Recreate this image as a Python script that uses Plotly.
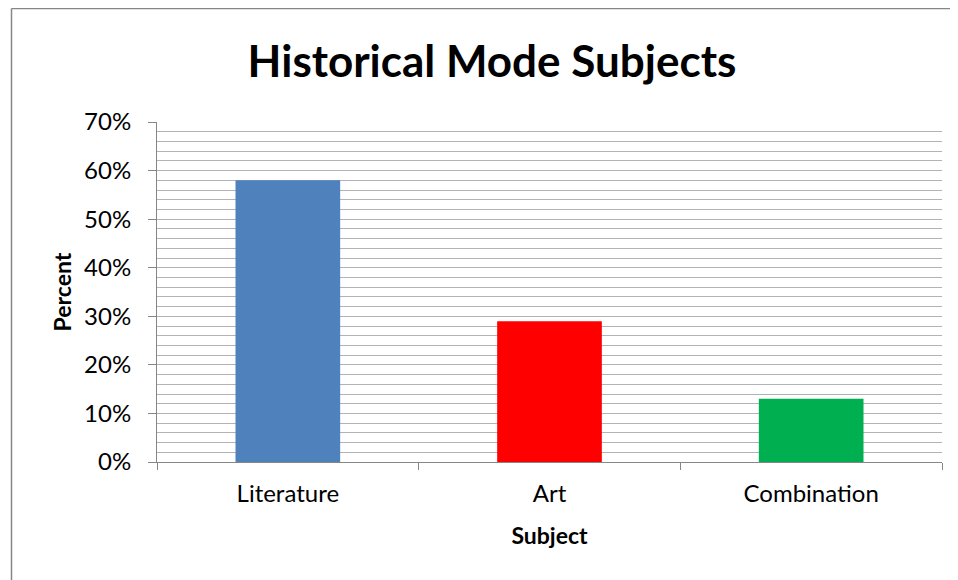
import plotly.graph_objects as go

categories = ["Literature", "Art", "Combination"]
values = [0.58, 0.29, 0.13]
bar_colors = ["#4F81BD", "#FF0000", "#00B050"]
y_tick_vals = [0, 0.1, 0.2, 0.3, 0.4, 0.5, 0.6, 0.7]
y_tick_text = ["0%", "10%", "20%", "30%", "40%", "50%", "60%", "70%"]

FONT = "Lato"
OFF = 8  # default page body margin
W, H = 958 - OFF, 580 - OFF
L, R, T, B = 157 - OFF, 16, 122 - OFF, 118

fig = go.Figure(go.Bar(x=categories, y=values, marker_color=bar_colors,
                       marker_line_width=0, width=0.4))

pw = W - L - R
ph = H - T - B
def px_x(x):  # page pixel -> paper
    return (x - OFF - L) / pw
def px_y(y):
    return (H - B - (y - OFF)) / ph

fig.update_layout(
    width=W, height=H,
    margin=dict(l=L, r=R, t=T, b=B),
    paper_bgcolor="white", plot_bgcolor="white",
    showlegend=False,
    font=dict(family=FONT, color="black", size=24),
    title=dict(text="<b>Historical Mode Subjects</b>", x=(492 - OFF) / W, xanchor="center",
               y=1 - (62 - OFF) / H, yanchor="middle",
               font=dict(family=FONT, size=44, color="black")),
    xaxis=dict(type="category", tickson="boundaries", ticks="outside", ticklen=7,
               tickcolor="#868686", showline=True, linecolor="#868686", linewidth=1,
               showgrid=False, tickfont=dict(size=24), ticklabelstandoff=10,
               title=dict(text="<b>Subject</b>", font=dict(size=23), standoff=22)),
    yaxis=dict(range=[0, 0.7], tickvals=y_tick_vals, ticktext=y_tick_text,
               ticks="outside", ticklen=8, tickcolor="#868686",
               showline=True, linecolor="#868686", linewidth=1,
               showgrid=True, gridcolor="#B3B3B3", gridwidth=1,
               minor=dict(dtick=0.02, showgrid=True, gridcolor="#B3B3B3", gridwidth=1),
               tickfont=dict(size=24), ticklabelstandoff=12,
               title=dict(text="<b>Percent</b>", font=dict(size=23), standoff=6)),
    shapes=[
        dict(type="line", xref="paper", yref="paper", x0=px_x(11.5), x1=px_x(1000),
             y0=px_y(8.5), y1=px_y(8.5), line=dict(color="#868686", width=1.5)),
        dict(type="line", xref="paper", yref="paper", x0=px_x(11.5), x1=px_x(11.5),
             y0=px_y(8.5), y1=px_y(700), line=dict(color="#868686", width=1.5)),
    ],
)

fig.write_html("out.html")
